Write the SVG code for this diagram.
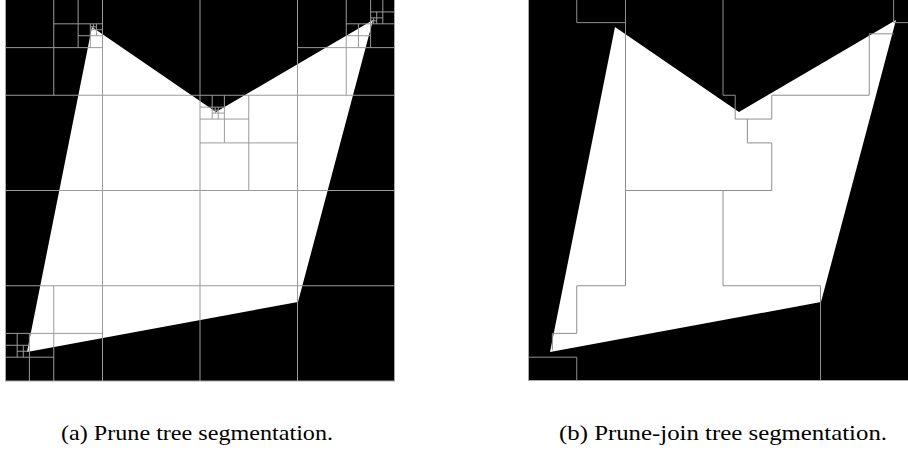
<svg xmlns="http://www.w3.org/2000/svg" width="908" height="458" viewBox="0 0 908 458">
<style>
.seg{fill:none;stroke:#9a9a9a;stroke-width:1;vector-effect:non-scaling-stroke}
.segb{fill:none;stroke:#8e8e8e;stroke-width:1;vector-effect:non-scaling-stroke}
.frame{fill:none;stroke:#a8a8a8;stroke-width:1}
.cap{font-family:"Liberation Serif","DejaVu Serif",serif;font-size:22px;fill:#000}
</style>
<defs>
<polygon id="shape" points="3.569,1.134 8.656,4.703 15.097,0.840 12.021,12.682 0.903,14.782" fill="#fff"/>
</defs>
<rect width="908" height="458" fill="#fff"/>
<g id="panel-a">
<rect x="5" y="0" width="390" height="381" fill="#000"/>
<g transform="translate(5,0) scale(24.375,23.8125)">
<use href="#shape"/>
<path class="seg" d="M4 0V16M8 0V16M12 0V16M0 4H16M0 8H16M0 12H16
M2 0V4M0 2H4M3 0V2M2 1H4M3.5 1V2M3 1.5H4M3.75 1V1.5M3.5 1.25H4M3.625 1V1.25M3.5 1.125H3.75
M14 0V4M12 2H16M15 0V2M14 1H16M14.5 1V2M14 1.5H15M15.5 0V1M15 0.5H16M15.25 0.5V1M15 0.75H15.5M15.125 0.75V1M15 0.875H15.25
M10 4V8M8 6H12M9 4V6M8 5H10M8.5 4V5M8 4.5H9M8.75 4.5V5M8.5 4.75H9M8.625 4.5V4.75M8.5 4.625H8.75
M2 12V16M0 14H4M1 14V16M0 15H2M0.5 14V15M0 14.5H1M0.75 14.5V15M0.5 14.75H1"/>
</g>
<rect class="frame" x="5.5" y="-1" width="389" height="382"/>
</g>
<g id="panel-b">
<rect x="528" y="0" width="390" height="381" fill="#000"/>
<g transform="translate(528,0) scale(24.375,23.8125)">
<use href="#shape"/>
<path class="segb" d="M2 0V0.95H4M4 0V8M8 0V4H8.5V5H10M4 8H10V6H9V5M10 5V4H14V1.42H15M15 0V0.95H16M8 8V12H12V16M4 8V12H2V14H1V14.7M0 15H2V16"/>
</g>
<rect class="frame" x="528.5" y="-1" width="390" height="381.5"/>
</g>
<g id="caption-a">
<text class="cap" x="197" y="440" text-anchor="middle" textLength="272" lengthAdjust="spacingAndGlyphs">(a) Prune tree segmentation.</text>
</g>
<g id="caption-b">
<text class="cap" x="723" y="440" text-anchor="middle" textLength="328" lengthAdjust="spacingAndGlyphs">(b) Prune-join tree segmentation.</text>
</g>
</svg>
